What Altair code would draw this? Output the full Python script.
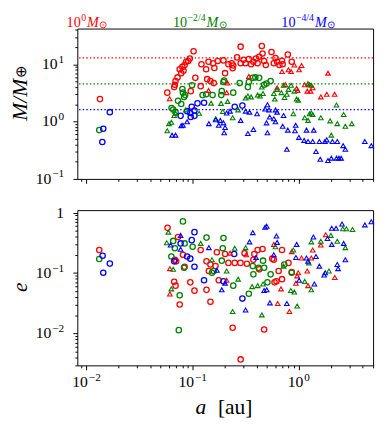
import altair as alt
import pandas as pd

FONT = "Liberation Serif"
RED, GREEN, BLUE = "#ff0000", "#008000", "#0000ff"

# ---------------- top panel: mass vs semi-major axis ----------------
top_red_c_a = [0.0134, 0.0577, 0.067, 0.068, 0.069, 0.072, 0.0755, 0.078, 0.080, 0.082, 0.084, 0.087, 0.091,
               0.094, 0.102, 0.096, 0.106, 0.119, 0.121, 0.134, 0.141, 0.137, 0.147, 0.158, 0.156, 0.172, 0.160,
               0.195, 0.202, 0.217, 0.233, 0.238, 0.241, 0.262, 0.283, 0.283, 0.302, 0.315, 0.338, 0.355, 0.373,
               0.395, 0.409, 0.423, 0.448, 0.455, 0.471, 0.488, 0.553, 0.581, 0.602, 0.624, 0.656, 0.694, 0.704,
               0.787, 0.857]
top_red_c_m = [2.47, 3.2, 4.0, 4.4, 5.1, 5.9, 8.2, 7.0, 9.0, 7.7, 9.7, 11.1, 11.4,
               12.6, 16.9, 3.4, 5.8, 4.15, 10.0, 8.2, 11.1, 5.5, 5.1, 4.7, 10.4, 11.4, 8.6,
               11.7, 7.0, 10.0, 10.4, 8.55, 9.5, 13.2, 20.3, 10.4, 12.0, 10.4, 12.3, 10.0, 11.1,
               12.6, 10.4, 13.5, 20.8, 15.4, 11.4, 9.7, 16.4, 10.4, 12.9, 11.1, 9.7, 11.5, 10.0,
               14.8, 11.1]
top_red_t_a = [0.0607, 0.141, 0.213, 0.209, 0.338, 0.624, 0.694, 0.745, 0.798, 0.845, 0.906, 0.953, 0.973,
               1.006, 1.06, 1.135, 1.20, 1.26, 1.29, 1.35, 1.61, 1.83, 1.88, 2.17]
top_red_t_m = [2.5, 3.5, 4.7, 3.2, 6.15, 3.9, 7.5, 4.4, 8.0, 7.5, 9.7, 3.8, 3.5,
               8.0, 9.5, 4.4, 3.4, 4.4, 3.4, 3.9, 2.7, 3.0, 7.0, 3.0]
top_grn_c_a = [0.0132, 0.0633, 0.0656, 0.069, 0.0728, 0.078, 0.080, 0.081, 0.083, 0.085, 0.0986, 0.124, 0.134,
               0.154, 0.188, 0.186, 0.195, 0.198, 0.241, 0.277, 0.331, 0.338, 0.368, 0.389, 0.423, 0.471, 0.496,
               0.542]
top_grn_c_m = [0.71, 1.73, 1.62, 1.46, 2.3, 2.03, 3.7, 3.2, 2.7, 2.9, 4.3, 2.9, 3.0,
               2.9, 3.4, 2.9, 4.9, 5.2, 3.2, 4.7, 4.0, 4.9, 5.8, 5.9, 5.8, 4.4, 4.6,
               5.1]
top_grn_t_a = [0.0577, 0.0598, 0.063, 0.067, 0.069, 0.086, 0.115, 0.149, 0.165, 0.185, 0.192, 0.213, 0.238,
               0.268, 0.315, 0.331, 0.355, 0.409, 0.430, 0.460, 0.448, 0.581, 0.593, 0.624, 0.684, 0.718, 0.733,
               0.771, 0.798, 0.845, 0.887, 0.906, 0.953, 0.986, 1.135, 1.22, 1.26, 1.31, 1.35, 1.61, 1.97,
               2.02, 2.30, 2.26, 2.64, 2.74, 3.15, 1.22, 1.31]
top_grn_t_m = [0.69, 0.92, 0.97, 1.28, 1.4, 1.6, 1.4, 2.1, 1.12, 2.08, 1.50, 2.25, 1.17,
               1.60, 2.57, 2.8, 2.7, 2.9, 2.8, 3.1, 4.0, 3.1, 2.47, 3.65, 3.2, 4.3, 2.64,
               3.0, 3.65, 4.3, 1.37, 3.4, 2.47, 2.37, 1.17, 1.05, 1.37, 1.41, 1.33, 1.17, 1.03,
               0.58, 0.92, 1.95, 1.33, 0.83, 0.92, 4.6, 4.3]
top_blu_c_a = [0.0166, 0.0144, 0.0141, 0.077, 0.0887, 0.095, 0.098, 0.104, 0.096, 0.104, 0.111, 0.128, 0.249,
               0.294]
top_blu_c_m = [1.46, 0.75, 0.44, 1.26, 1.52, 1.41, 1.82, 1.56, 1.20, 1.26, 2.08, 2.13, 1.82,
               1.90]
top_blu_t_a = [0.064, 0.069, 0.078, 0.081, 0.0887, 0.142, 0.165, 0.182, 0.176, 0.195, 0.202, 0.198, 0.209,
               0.225, 0.283, 0.315, 0.343, 0.331, 0.373, 0.404, 0.481, 0.506, 0.523, 0.496, 0.531, 0.506, 0.581,
               0.602, 0.624, 0.602, 0.718, 0.704, 0.787, 0.771, 0.933, 0.919, 1.0, 1.12, 1.18, 1.22, 1.38,
               1.35, 1.45, 1.56, 1.59, 1.76, 1.83, 1.88, 2.02, 2.07, 2.30, 2.26, 2.38, 2.50, 2.61, 2.74,
               4.18, 4.81]
top_blu_t_m = [0.58, 0.58, 0.85, 0.86, 0.99, 0.92, 1.08, 1.05, 0.86, 0.95, 0.79, 0.64, 1.41,
               1.52, 1.05, 1.52, 1.46, 0.62, 0.73, 1.37, 1.66, 1.97, 1.60, 0.95, 1.20, 0.64, 1.12,
               1.60, 1.46, 0.99, 1.28, 0.83, 0.71, 0.33, 0.86, 0.69, 0.53, 0.47, 0.71, 0.45, 0.71,
               0.45, 0.30, 0.45, 0.22, 0.45, 0.48, 0.21, 0.23, 0.45, 0.45, 0.23, 0.23, 0.23, 0.38, 0.33,
               0.45, 0.38]
# reference mass levels (dotted lines)
line_levels = [12.9, 4.56, 1.62]

# ---------------- bottom panel: eccentricity vs semi-major axis ----------------
bot_red_c_a = [0.0132, 0.058, 0.068, 0.067, 0.069, 0.0755, 0.0728, 0.081, 0.095, 0.104, 0.070, 0.084,
               0.119, 0.135, 0.142, 0.164, 0.147, 0.135, 0.169, 0.202, 0.217, 0.249, 0.238, 0.283, 0.308,
               0.282, 0.324, 0.381, 0.409, 0.455, 0.373, 0.423, 0.471, 0.176, 0.147,
               0.562, 0.581, 0.694, 0.798, 0.857, 0.645, 0.59, 0.615, 0.694]
bot_red_c_e = [0.241, 0.56, 0.166, 0.0716, 0.0617, 0.030, 0.395, 0.20, 0.07, 0.051, 0.156, 0.127,
               0.241, 0.156, 0.108, 0.130, 0.0333, 0.0526, 0.221, 0.206, 0.147, 0.147, 0.0124, 0.0037, 0.213,
               0.147, 0.142, 0.206, 0.241, 0.25, 0.166, 0.115, 0.0116, 0.076, 0.138,
               0.173, 0.166, 0.241, 0.147, 0.104, 0.108, 0.070, 0.0727, 0.079]
bot_red_t_a = [0.061, 0.061, 0.209, 0.225, 0.32, 0.581, 0.679, 0.632, 0.815, 0.857, 0.938, 0.964, 0.986,
               1.06, 1.20, 1.22, 1.31, 1.35, 1.61, 1.79, 2.18]
bot_red_t_e = [0.045, 0.118, 0.076, 0.213, 0.20, 0.298, 0.0546, 0.0313, 0.023, 0.226, 0.0675, 0.0895, 0.101,
               0.177, 0.108, 0.0617, 0.177, 0.241, 0.29, 0.43, 0.0843]
bot_grn_c_a = [0.0132, 0.081, 0.063, 0.068, 0.0755, 0.074, 0.084, 0.1, 0.083, 0.0656,
               0.135, 0.195, 0.152, 0.158, 0.188, 0.192, 0.241, 0.338, 0.368, 0.373, 0.418, 0.460, 0.471,
               0.542, 0.506, 0.728, 0.857]
bot_grn_c_e = [0.171, 0.716, 0.188, 0.257, 0.0426, 0.0113, 0.309, 0.272, 0.122, 0.34,
               0.386, 0.381, 0.101, 0.108, 0.160, 0.257, 0.0617, 0.0453, 0.130, 0.095, 0.122, 0.160, 0.122,
               0.095, 0.070, 0.138, 0.101]
bot_grn_t_a = [0.059, 0.057, 0.0656, 0.063,
               0.119, 0.152, 0.209, 0.249, 0.238, 0.268, 0.315, 0.363, 0.448, 0.409, 0.460,
               0.602, 0.718, 0.887, 0.840, 0.906, 0.964, 1.135, 1.31, 1.24, 1.31, 1.61, 2.0, 2.30, 2.74,
               2.59, 2.80, 3.20, 1.92]
bot_grn_t_e = [0.475, 0.316, 0.115, 0.0546,
               0.309, 0.166, 0.108, 0.257, 0.023, 0.079, 0.263, 0.0595, 0.0202, 0.0617, 0.0657,
               0.272, 0.130, 0.241, 0.0513, 0.0483, 0.0283, 0.0727, 0.0526, 0.147, 0.328, 0.336, 0.42, 0.336,
               0.263, 0.54, 0.54, 0.526, 0.108]
bot_blu_c_a = [0.0142, 0.0166, 0.0144, 0.077, 0.098, 0.104, 0.0887, 0.095, 0.104, 0.067,
               0.128, 0.294, 0.246, 0.195]
bot_blu_c_e = [0.193, 0.143, 0.101, 0.309, 0.35, 0.475, 0.188, 0.173, 0.127, 0.156,
               0.076, 0.0377, 0.206, 0.0727]
bot_blu_t_a = [0.062, 0.077, 0.077,
               0.142, 0.169, 0.188, 0.202, 0.315, 0.368, 0.343, 0.481, 0.395, 0.471,
               0.498, 0.615, 0.624, 0.581, 0.953, 0.938, 0.534, 0.771, 0.498, 1.006, 1.18, 1.22, 1.56,
               1.40, 1.37, 1.45, 1.77, 1.73, 1.86, 2.04, 2.04, 2.24, 2.55, 2.30, 2.34, 2.64, 2.74,
               4.18, 4.81]
bot_blu_t_e = [0.29, 0.42, 0.248,
               0.263, 0.111, 0.0526, 0.068, 0.0244, 0.466, 0.328, 0.573, 0.181, 0.0513,
               0.594, 0.41, 0.321, 0.20, 0.298, 0.181, 0.032, 0.0313, 0.0526, 0.076, 0.177, 0.156, 0.130,
               0.0657, 0.395, 0.188, 0.101, 0.0929, 0.372, 0.298, 0.552, 0.552, 0.65, 0.138, 0.118, 0.309,
               0.166, 0.627, 0.708]

# header labels (stellar mass)
hdr_exps = ["0", "\u22122/4", "\u22124/4"]
hdr_colors = [RED, GREEN, BLUE]

# tick labels (decades)
xlab_vals = [0.01, 0.1, 1.0]
xlab_exps = ["\u22122", "\u22121", "0"]
ytlab_vals = [0.1, 1.0, 10.0]
ytlab_exps = ["\u22121", "0", "1"]
yblab_vals = [0.01, 0.1, 1.0]
yblab_exps = ["\u22122", "\u22121", None]   # None -> plain "1"

X_DOMAIN = [0.0082, 5.0]
YT_DOMAIN = [0.1, 42.0]
YB_DOMAIN = [0.00295, 1.1]

W, H_TOP, H_BOT = 303, 154, 159
LF, LFS = 16.0, 11.5   # tick-label font sizes (base / exponent)


def tick_values(lo, hi, exps):
    out = []
    for e in exps:
        for k in range(1, 10):
            v = k * 10.0 ** e
            if lo * 0.999 <= v <= hi * 1.001:
                out.append(v)
    return out


L = "(log(datum.value)/LN10)"
DEC = f"abs({L} - round({L})) < 0.01"


def make_axis(values):
    return alt.Axis(values=values, title=None, grid=False, domain=False, labels=False,
                    tickColor="black", tickWidth=1,
                    tickSize={"condition": {"test": DEC, "value": 4.5}, "value": 2.5})


def points_df(groups):
    rows = []
    for a_list, v_list, grp in groups:
        for a, v in zip(a_list, v_list):
            rows.append({"a": a, "v": v, "grp": grp})
    return pd.DataFrame(rows)


color_enc = alt.Color("grp:N", scale=alt.Scale(domain=["r", "g", "b"], range=[RED, GREEN, BLUE]), legend=None)

x_scale = alt.Scale(type="log", domain=X_DOMAIN)
x_axis = make_axis(tick_values(*X_DOMAIN, [-3, -2, -1, 0]))
yt_scale = alt.Scale(type="log", domain=YT_DOMAIN)
yt_axis = make_axis(tick_values(*YT_DOMAIN, [-1, 0, 1]))
yb_scale = alt.Scale(type="log", domain=YB_DOMAIN)
yb_axis = make_axis(tick_values(*YB_DOMAIN, [-3, -2, -1, 0]))


def scatter_layers(circ, tri, y_scale, y_axis):
    xe = alt.X("a:Q", scale=x_scale, axis=x_axis)
    ye = alt.Y("v:Q", scale=y_scale, axis=y_axis)
    c = alt.Chart(points_df(circ)).mark_point(shape="circle", filled=False, size=30, strokeWidth=1.3,
                                               opacity=1).encode(x=xe, y=ye, color=color_enc)
    t = alt.Chart(points_df(tri)).mark_point(shape="triangle-up", filled=False, size=22, strokeWidth=1.1,
                                              opacity=1).encode(x=xe, y=ye, color=color_enc)
    return [c, t]


def text_piece(txt, px, py, fs, style="normal", color="black", angle=0, align="left", baseline="alphabetic"):
    return alt.Chart(pd.DataFrame({"t": [txt]})).mark_text(
        align=align, baseline=baseline, font=FONT, fontSize=fs, fontStyle=style, color=color, angle=angle
    ).encode(x=alt.value(px), y=alt.value(py), text="t:N")


def exp_width(expo, fs):
    w = 0.0
    for c in expo:
        w += 0.28 * fs if c == "/" else (0.56 * fs if c == "\u2212" else 0.5 * fs)
    return w


def x_tick_labels(H):
    layers = []
    for v, ex in zip(xlab_vals, xlab_exps):
        tot = LF + 1.0 + exp_width(ex, LFS)
        for txt, dx, yy, fs in [("10", -tot / 2, H + 22.5, LF), (ex, -tot / 2 + LF + 1.0, H + 16.0, LFS)]:
            layers.append(alt.Chart(pd.DataFrame({"a": [v], "t": [txt]})).mark_text(
                align="left", baseline="alphabetic", font=FONT, fontSize=fs, color="black", dx=dx
            ).encode(x=alt.X("a:Q", scale=x_scale, axis=x_axis), y=alt.value(yy), text="t:N"))
    return layers


def y_tick_labels(vals, exps, y_scale, y_axis):
    layers = []
    right = -13.5
    for v, ex in zip(vals, exps):
        if ex is None:
            pieces = [("1", right, 5.5, LF)]
        else:
            pieces = [("10", right - exp_width(ex, LFS) - 1.0, 5.0, LF), (ex, right, -1.5, LFS)]
        for txt, px, dy, fs in pieces:
            layers.append(alt.Chart(pd.DataFrame({"tv": [v], "t": [txt]})).mark_text(
                align="right", baseline="alphabetic", font=FONT, fontSize=fs, color="black", dy=dy
            ).encode(x=alt.value(px), y=alt.Y("tv:Q", scale=y_scale, axis=y_axis), text="t:N"))
    return layers


def header(x0, expo, color, F=14.5, Fs=10.0, y_exp=-7.5, raise_=5.5):
    x_exp = x0 + F + 0.5
    x_m = x_exp + exp_width(expo, Fs) + 1.0
    x_sun = x_m + 0.83 * F + 0.5
    yb = y_exp + raise_
    return [
        text_piece("10", x0, yb, F, color=color),
        text_piece(expo, x_exp, y_exp, Fs, color=color),
        text_piece("M", x_m, yb, F, style="italic", color=color),
        text_piece("\u2299", x_sun, yb + 1.0, Fs, color=color),
    ]


# ---- top panel
hdr = []
for x0, ex, col in zip([-11, 98, 209], hdr_exps, hdr_colors):
    hdr += header(x0, ex, col)
top_layers = scatter_layers(
    [(top_red_c_a, top_red_c_m, "r"), (top_grn_c_a, top_grn_c_m, "g"), (top_blu_c_a, top_blu_c_m, "b")],
    [(top_red_t_a, top_red_t_m, "r"), (top_grn_t_a, top_grn_t_m, "g"), (top_blu_t_a, top_blu_t_m, "b")],
    yt_scale, yt_axis)
rules = alt.Chart(pd.DataFrame({"lvl": line_levels, "grp": ["r", "g", "b"]})).mark_rule(
    strokeDash=[1.5, 2.2], strokeWidth=1.3).encode(
    y=alt.Y("lvl:Q", scale=yt_scale, axis=yt_axis), color=color_enc)
ytitle = [
    text_piece("M/M", -69, 73, 22, style="italic", angle=270, align="center", baseline="top"),
    text_piece("\u2295", -65, 51, 15, angle=270, align="left", baseline="top"),
]
top = alt.layer(rules, *top_layers, *y_tick_labels(ytlab_vals, ytlab_exps, yt_scale, yt_axis),
                *ytitle, *hdr).properties(width=W, height=H_TOP)

# ---- bottom panel
bot_layers = scatter_layers(
    [(bot_red_c_a, bot_red_c_e, "r"), (bot_grn_c_a, bot_grn_c_e, "g"), (bot_blu_c_a, bot_blu_c_e, "b")],
    [(bot_red_t_a, bot_red_t_e, "r"), (bot_grn_t_a, bot_grn_t_e, "g"), (bot_blu_t_a, bot_blu_t_e, "b")],
    yb_scale, yb_axis)
btitles = [
    text_piece("e", -69, 79, 22, style="italic", angle=270, align="center", baseline="top"),
    text_piece("a", 121, 209, 22, style="italic"),
    text_piece("[au]", 144, 209, 22),
]
bottom = alt.layer(*bot_layers, *y_tick_labels(yblab_vals, yblab_exps, yb_scale, yb_axis),
                   *x_tick_labels(H_BOT), *btitles).properties(width=W, height=H_BOT)

chart = alt.vconcat(top, bottom, spacing=32, bounds="flush").properties(
    padding={"left": 0, "top": 0, "right": 0, "bottom": 0}
).configure_view(stroke="black", strokeWidth=1)

chart.save("out.html", embed_options={"renderer": "svg", "actions": False})
